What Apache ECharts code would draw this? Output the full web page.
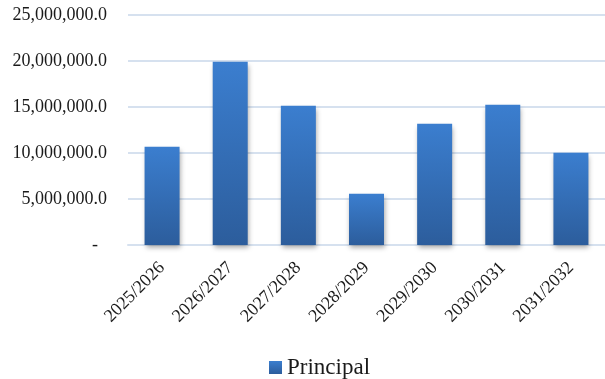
<!DOCTYPE html>
<html>
<head>
<meta charset="utf-8">
<script src="https://cdn.jsdelivr.net/npm/echarts@6/dist/echarts.min.js"></script>
<style>html,body{margin:0;padding:0;background:#fff}#c{width:605px;height:379px}</style>
</head>
<body>
<div id="c"></div>
<script>
var categories = ['2025/2026','2026/2027','2027/2028','2028/2029','2029/2030','2030/2031','2031/2032'];
var principal = [10680000, 19930000, 15140000, 5560000, 13180000, 15250000, 10020000];
var seriesName = 'Principal';
var yTicks = [0, 5000000, 10000000, 15000000, 20000000, 25000000];

function fmt(v){
  if (v === 0) return '-  ';
  var s = Math.round(v).toString().replace(/\B(?=(\d{3})+(?!\d))/g, ',');
  return s + '.0';
}
var font = '"Liberation Serif","Times New Roman",serif';
var chart = echarts.init(document.getElementById('c'), null, {renderer:'canvas'});
chart.setOption({
  animation:false,
  backgroundColor:'#fff',
  grid:{left:128, top:15, width:480, height:230, containLabel:false},
  legend:{
    data:[seriesName], left:264, top:351,
    itemWidth:13, itemHeight:13, itemGap:5,
    textStyle:{fontFamily:font, fontSize:23, color:'#1a1a1a', padding:[0,0,0,0]},
    icon:'rect'
  },
  xAxis:{
    type:'category', data:categories,
    axisLine:{show:true, lineStyle:{color:'#d6e1ef', width:2}},
    axisTick:{show:false},
    axisLabel:{rotate:45, margin:20, fontFamily:font, fontSize:18, color:'#1a1a1a', interval:0}
  },
  yAxis:{
    type:'value', min:yTicks[0], max:yTicks[yTicks.length-1], interval:yTicks[1]-yTicks[0],
    axisLine:{show:false}, axisTick:{show:false},
    splitLine:{lineStyle:{color:'#d6e1ef', width:2}},
    axisLabel:{margin:21, fontFamily:font, fontSize:18, color:'#1a1a1a', formatter:fmt}
  },
  series:[{
    name:seriesName, type:'bar', data:principal, barWidth:35,
    itemStyle:{
      color:new echarts.graphic.LinearGradient(0,0,0,1,[{offset:0,color:'#3b7ecf'},{offset:1,color:'#2c5d9c'}]),
      shadowColor:'rgba(0,0,0,0.35)', shadowBlur:5, shadowOffsetX:1, shadowOffsetY:3
    }
  }]
});
</script>
</body>
</html>
